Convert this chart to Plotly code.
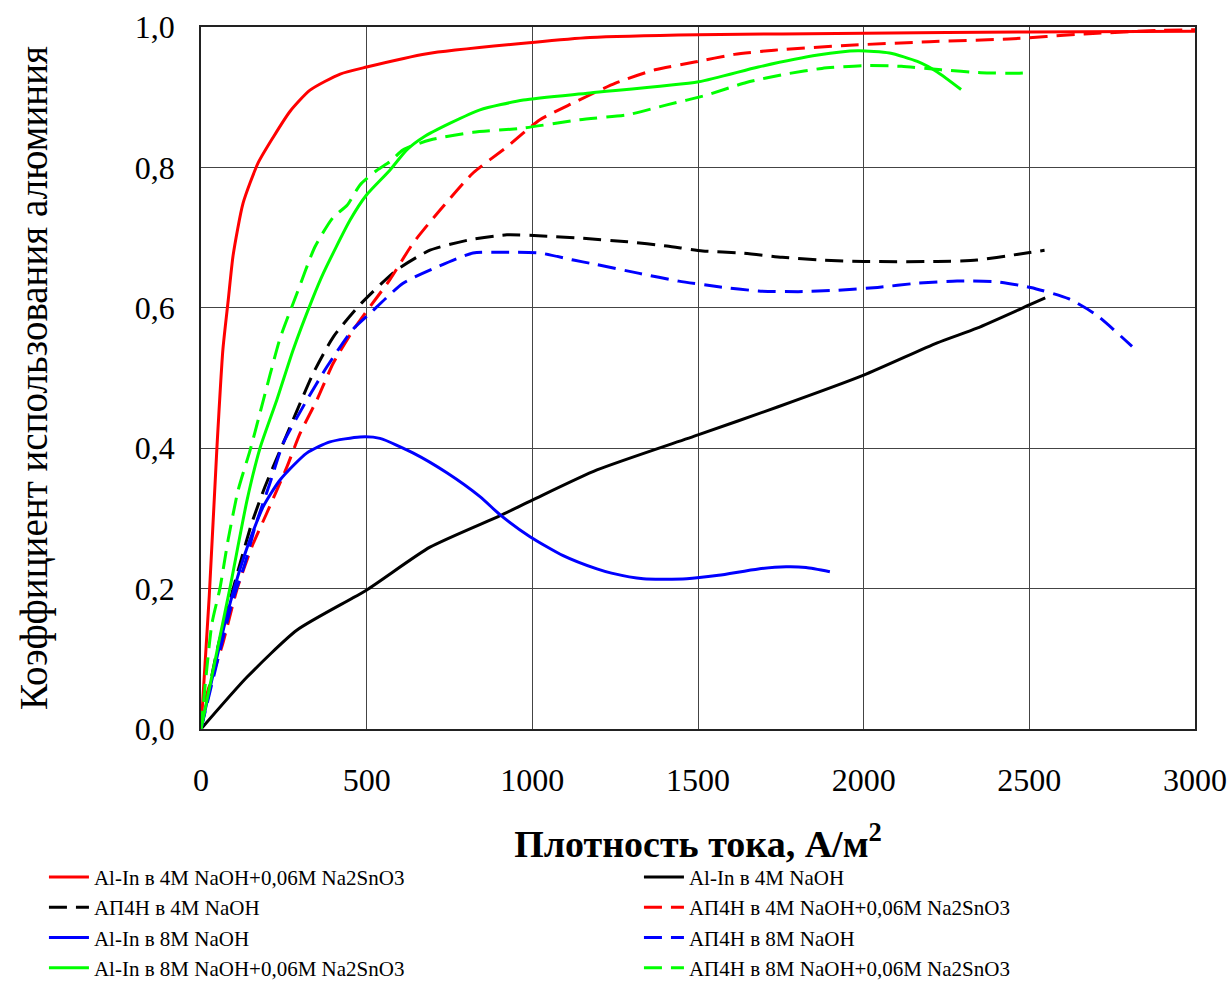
import plotly.graph_objects as go

# --- data ---
al_in_4m_sn_x = [0, 25, 48, 66, 82, 97, 127, 172, 218, 269, 329, 420, 500, 682, 1000, 1174, 1500, 2000, 2500, 3000]
al_in_4m_sn_y = [0, 0.19, 0.40, 0.54, 0.61, 0.675, 0.749, 0.806, 0.843, 0.880, 0.910, 0.933, 0.943, 0.962, 0.978, 0.985, 0.989, 0.991, 0.993, 0.994]

al_in_4m_x = [0, 139, 290, 500, 691, 903, 1000, 1195, 1500, 1742, 2000, 2222, 2342, 2500, 2548]
al_in_4m_y = [0, 0.074, 0.141, 0.198, 0.259, 0.304, 0.326, 0.369, 0.419, 0.459, 0.504, 0.550, 0.571, 0.604, 0.614]

ap4n_4m_x = [0, 51, 82, 118, 153, 193, 239, 290, 339, 400, 485, 591, 691, 812, 923, 1044, 1153, 1287, 1406, 1514, 1634, 1754, 1874, 2000, 2222, 2342, 2462, 2546]
ap4n_4m_y = [0, 0.117, 0.174, 0.236, 0.293, 0.345, 0.397, 0.454, 0.507, 0.559, 0.607, 0.654, 0.682, 0.697, 0.704, 0.702, 0.699, 0.694, 0.688, 0.681, 0.678, 0.672, 0.668, 0.666, 0.666, 0.668, 0.676, 0.682]

ap4n_4m_sn_x = [0, 12, 66, 108, 153, 198, 259, 299, 350, 399, 459, 495, 570, 640, 721, 821, 923, 1023, 1124, 1251, 1370, 1490, 1610, 1730, 1958, 2198, 2438, 2666, 2881, 3000]
ap4n_4m_sn_y = [0, 0.04, 0.122, 0.198, 0.259, 0.307, 0.373, 0.421, 0.469, 0.521, 0.568, 0.592, 0.640, 0.692, 0.739, 0.792, 0.829, 0.868, 0.892, 0.920, 0.939, 0.950, 0.961, 0.967, 0.974, 0.979, 0.983, 0.990, 0.995, 0.996]

al_in_8m_x = [0, 77, 133, 187, 239, 319, 389, 480, 540, 641, 742, 842, 903, 993, 1093, 1195, 1239, 1335, 1466, 1562, 1682, 1766, 1826, 1898]
al_in_8m_y = [0, 0.160, 0.250, 0.316, 0.355, 0.393, 0.409, 0.416, 0.414, 0.393, 0.365, 0.331, 0.305, 0.274, 0.247, 0.228, 0.222, 0.214, 0.214, 0.219, 0.228, 0.231, 0.230, 0.224]

ap4n_8m_x = [0, 94, 133, 163, 208, 248, 314, 380, 456, 510, 610, 712, 821, 923, 1023, 1124, 1179, 1323, 1442, 1562, 1682, 1802, 1922, 2042, 2162, 2282, 2402, 2504, 2618, 2702, 2810]
ap4n_8m_y = [0, 0.180, 0.236, 0.288, 0.350, 0.407, 0.464, 0.516, 0.568, 0.592, 0.635, 0.658, 0.678, 0.679, 0.678, 0.668, 0.663, 0.649, 0.638, 0.630, 0.624, 0.623, 0.625, 0.629, 0.635, 0.638, 0.637, 0.629, 0.613, 0.590, 0.545]

al_in_8m_sn_x = [0, 87, 139, 178, 229, 278, 335, 369, 450, 500, 570, 621, 671, 752, 842, 973, 1174, 1502, 1682, 1862, 1982, 2078, 2162, 2222, 2294]
al_in_8m_sn_y = [0, 0.20, 0.326, 0.40, 0.469, 0.54, 0.611, 0.649, 0.725, 0.761, 0.796, 0.825, 0.843, 0.863, 0.882, 0.896, 0.906, 0.922, 0.943, 0.960, 0.966, 0.963, 0.951, 0.936, 0.911]

ap4n_8m_sn_x = [0, 33, 57, 82, 112, 148, 178, 208, 239, 290, 344, 399, 441, 480, 531, 570, 610, 691, 821, 972, 1143, 1287, 1406, 1526, 1646, 1766, 1874, 2000, 2114, 2234, 2354, 2462, 2504]
ap4n_8m_sn_y = [0, 0.15, 0.20, 0.27, 0.34, 0.397, 0.45, 0.504, 0.557, 0.621, 0.687, 0.729, 0.746, 0.775, 0.796, 0.808, 0.825, 0.839, 0.850, 0.856, 0.868, 0.875, 0.889, 0.903, 0.921, 0.933, 0.941, 0.945, 0.944, 0.939, 0.935, 0.934, 0.935]

x_ticks = [0, 500, 1000, 1500, 2000, 2500, 3000]
y_ticks = [0.0, 0.2, 0.4, 0.6, 0.8, 1.0]
y_tick_labels = ["0,0", "0,2", "0,4", "0,6", "0,8", "1,0"]

series = [
    ("Al-In в 4M NaOH+0,06M Na2SnO3", al_in_4m_sn_x, al_in_4m_sn_y, "#ff0000", "solid"),
    ("Al-In в 4M NaOH", al_in_4m_x, al_in_4m_y, "#000000", "solid"),
    ("АП4Н в 4M NaOH", ap4n_4m_x, ap4n_4m_y, "#000000", "18px,9px"),
    ("АП4Н в 4M NaOH+0,06M Na2SnO3", ap4n_4m_sn_x, ap4n_4m_sn_y, "#ff0000", "18px,9px"),
    ("Al-In в 8M NaOH", al_in_8m_x, al_in_8m_y, "#0000ff", "solid"),
    ("АП4Н в 8M NaOH", ap4n_8m_x, ap4n_8m_y, "#0000ff", "18px,9px"),
    ("Al-In в 8M NaOH+0,06M Na2SnO3", al_in_8m_sn_x, al_in_8m_sn_y, "#00ff00", "solid"),
    ("АП4Н в 8M NaOH+0,06M Na2SnO3", ap4n_8m_sn_x, ap4n_8m_sn_y, "#00ff00", "18px,9px"),
]

FONT = "Liberation Serif, Times New Roman, serif"

fig = go.Figure()
for name, xs, ys, color, dash in series:
    fig.add_trace(go.Scatter(
        x=xs, y=ys, name=name, mode="lines",
        line=dict(color=color, width=3, dash=dash, shape="spline", smoothing=0.6),
    ))

fig.update_layout(
    width=1230, height=987,
    margin=dict(l=201, r=35, t=27, b=258, autoexpand=False),
    paper_bgcolor="white", plot_bgcolor="white",
    font=dict(family=FONT, color="black", size=32),
    showlegend=True,
    legend=dict(
        orientation="h", x=-0.158, xanchor="left", y=-0.182, yanchor="top",
        entrywidth=540, entrywidthmode="pixels",
        font=dict(family=FONT, size=21, color="black"),
        bgcolor="rgba(0,0,0,0)", itemwidth=40, tracegroupgap=0,
    ),
    xaxis=dict(
        range=[0, 3000], tickvals=x_ticks, tickformat="d",
        showgrid=True, gridcolor="#444444", gridwidth=1,
        showline=True, linecolor="#222222", linewidth=1.5, mirror=True,
        zeroline=False, ticks="", ticklabelstandoff=22,
        tickfont=dict(size=32),
        title=dict(text="<b>Плотность тока, А/м<sup>2</sup></b>", font=dict(size=38), standoff=33),
    ),
    yaxis=dict(
        range=[0, 1.0], tickvals=y_ticks, ticktext=y_tick_labels,
        showgrid=True, gridcolor="#444444", gridwidth=1,
        showline=True, linecolor="#222222", linewidth=1.5, mirror=True,
        zeroline=False, ticks="", ticklabelstandoff=18,
        tickfont=dict(size=32),
        title=dict(text="Коэффициент использования алюминия", font=dict(size=39), standoff=75),
    ),
)

fig.write_html("out.html")
